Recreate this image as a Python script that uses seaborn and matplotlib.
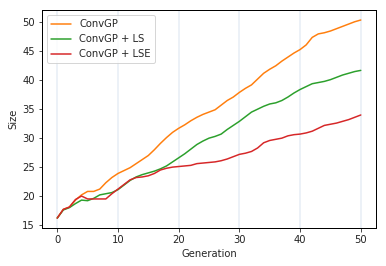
import numpy as np
import pandas as pd
import matplotlib
matplotlib.use("Agg")
import matplotlib.pyplot as plt
import seaborn as sns

generations = list(range(51))
convgp = [16.2, 17.7, 18.1, 19.3, 20.2, 20.8, 20.8, 21.2, 22.3, 23.2,
          23.9, 24.4, 24.9, 25.6, 26.3, 27.0, 28.0, 29.1, 30.1, 31.0,
          31.7, 32.3, 33.0, 33.6, 34.1, 34.5, 34.9, 35.7, 36.5, 37.1,
          37.9, 38.6, 39.2, 40.2, 41.2, 41.9, 42.5, 43.3, 44.0, 44.7,
          45.3, 46.1, 47.4, 48.0, 48.2, 48.5, 48.9, 49.3, 49.7, 50.1, 50.4]
convgp_ls = [16.2, 17.6, 18.0, 18.7, 19.3, 19.2, 19.6, 20.2, 20.4, 20.6,
             21.1, 21.9, 22.7, 23.3, 23.7, 24.0, 24.3, 24.7, 25.2, 25.9,
             26.6, 27.3, 28.1, 28.9, 29.5, 30.0, 30.3, 30.7, 31.5, 32.2,
             32.9, 33.7, 34.5, 35.0, 35.5, 35.9, 36.1, 36.5, 37.1, 37.8,
             38.4, 38.9, 39.4, 39.6, 39.8, 40.1, 40.5, 40.9, 41.2, 41.5, 41.7]
convgp_lse = [16.2, 17.7, 18.1, 19.4, 20.0, 19.5, 19.5, 19.5, 19.5, 20.4,
              21.2, 22.0, 22.8, 23.2, 23.3, 23.5, 23.9, 24.5, 24.8, 25.0,
              25.1, 25.2, 25.3, 25.6, 25.7, 25.8, 25.9, 26.1, 26.4, 26.8,
              27.2, 27.4, 27.7, 28.3, 29.2, 29.6, 29.8, 30.0, 30.4, 30.6,
              30.7, 30.9, 31.2, 31.7, 32.2, 32.4, 32.6, 32.9, 33.2, 33.6, 34.0]
labels = ["ConvGP", "ConvGP + LS", "ConvGP + LSE"]
colors = ["#ff7f0e", "#2ca02c", "#d62728"]

df = pd.DataFrame({
    "Generation": generations * 3,
    "Size": convgp + convgp_ls + convgp_lse,
    "Method": [labels[0]] * 51 + [labels[1]] * 51 + [labels[2]] * 51,
})

sns.set_style("ticks")
fig, ax = plt.subplots(figsize=(386 / 72, 266 / 72), dpi=72)
fig.subplots_adjust(left=0.109, right=0.974, top=0.962, bottom=0.143)
sns.lineplot(data=df, x="Generation", y="Size", hue="Method",
             palette=colors, linewidth=1.5, ax=ax)
ax.xaxis.grid(True, color="#e6edf5", linewidth=1.5)
ax.set_axisbelow(True)
for s in ax.spines.values():
    s.set_color("black")
    s.set_linewidth(1)
ax.tick_params(colors="#222222", labelcolor="#222222")
ax.legend(title=None, loc="upper left")
fig.savefig("out.png", dpi=72)
